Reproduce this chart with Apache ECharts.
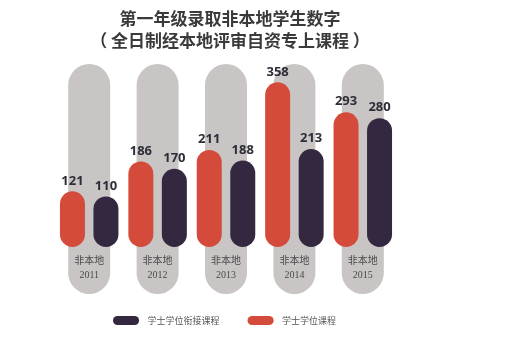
<!DOCTYPE html>
<html>
<head>
<meta charset="utf-8">
<script src="https://cdn.jsdelivr.net/npm/echarts@6/dist/echarts.min.js"></script>
<style>
  html, body { margin: 0; padding: 0; background: #ffffff; }
  #chart { width: 511px; height: 337px; }
</style>
</head>
<body>
<div id="chart"></div>
<script>
// Years shown under each column
const years = ['2011', '2012', '2013', '2014', '2015'];
const regionLabel = '非本地';

// First-year non-local admissions
const degreeValues = [121, 186, 211, 358, 293];      // 学士学位课程
const topUpValues = [110, 170, 188, 213, 280];       // 学士学位衔接课程

// Background capsule behind each year (full height)
const capsuleValues = [1, 1, 1, 1, 1];

const seriesNames = ['学士学位衔接课程', '学士学位课程'];

const RED = '#d44b3b';
const NAVY = '#33283f';
const GRAY = '#cac5c5';

const chart = echarts.init(document.getElementById('chart'), null, { renderer: 'canvas' });

const cjk = '"Noto Sans CJK SC", "Noto Sans", sans-serif';

chart.setOption({
  backgroundColor: '#ffffff',
  animation: false,
  title: {
    text: '第一年级录取非本地学生数字\n（ 全日制经本地评审自资专上课程 ）',
    left: 225,
    top: 3,
    textAlign: 'center',
    textStyle: {
      fontFamily: cjk,
      fontSize: 17,
      fontWeight: 'bold',
      color: '#3a3a3a',
      lineHeight: 22
    }
  },
  legend: {
    data: seriesNames,
    left: 108,
    top: 311,
    itemWidth: 29,
    itemHeight: 9,
    itemGap: 28,
    icon: 'path://M5,0 H24 A5,5 0 0 1 24,10 H5 A5,5 0 0 1 5,0 Z',
    textStyle: { fontFamily: cjk, fontSize: 9, color: '#555555', padding: [0, 0, 0, 2] }
  },
  grid: [
    { left: 55, right: 114, top: 63, bottom: 90 },
    { left: 55, right: 114, top: 64, bottom: 43 }
  ],
  xAxis: [
    {
      type: 'category',
      gridIndex: 0,
      data: years,
      z: 10,
      axisLine: { show: false },
      axisTick: { show: false },
      axisLabel: {
        interval: 0,
        margin: 6,
        formatter: function (v) { return '{a|' + regionLabel + '}\n{b|' + v + '}'; },
        rich: {
          a: { fontFamily: cjk, fontSize: 10, color: '#4a4a4a', lineHeight: 15 },
          b: { fontFamily: '"Liberation Serif", serif', fontSize: 10, color: '#4a4a4a', lineHeight: 15 }
        }
      }
    },
    {
      type: 'category',
      gridIndex: 1,
      data: years,
      show: false
    }
  ],
  yAxis: [
    { type: 'value', gridIndex: 0, min: 0, max: 400, show: false, splitLine: { show: false } },
    { type: 'value', gridIndex: 1, min: 0, max: 1, show: false, splitLine: { show: false } }
  ],
  series: [
    {
      type: 'bar',
      xAxisIndex: 1,
      yAxisIndex: 1,
      data: capsuleValues,
      barWidth: 42,
      z: 1,
      silent: true,
      itemStyle: { color: GRAY, borderRadius: 21 }
    },
    {
      name: seriesNames[1],
      type: 'bar',
      xAxisIndex: 0,
      yAxisIndex: 0,
      data: degreeValues,
      barWidth: 25,
      barGap: '34%',
      z: 3,
      itemStyle: { color: RED, borderRadius: 12.5 },
      label: {
        show: true,
        position: 'top',
        distance: 4,
        fontFamily: '"Noto Sans", sans-serif',
        fontWeight: 'bold',
        fontSize: 13,
        color: '#2e2d38'
      }
    },
    {
      name: seriesNames[0],
      type: 'bar',
      xAxisIndex: 0,
      yAxisIndex: 0,
      data: topUpValues,
      barWidth: 25,
      barGap: '34%',
      z: 3,
      itemStyle: { color: NAVY, borderRadius: 12.5 },
      label: {
        show: true,
        position: 'top',
        distance: 4,
        fontFamily: '"Noto Sans", sans-serif',
        fontWeight: 'bold',
        fontSize: 13,
        color: '#2e2d38'
      }
    }
  ]
});
</script>
</body>
</html>
